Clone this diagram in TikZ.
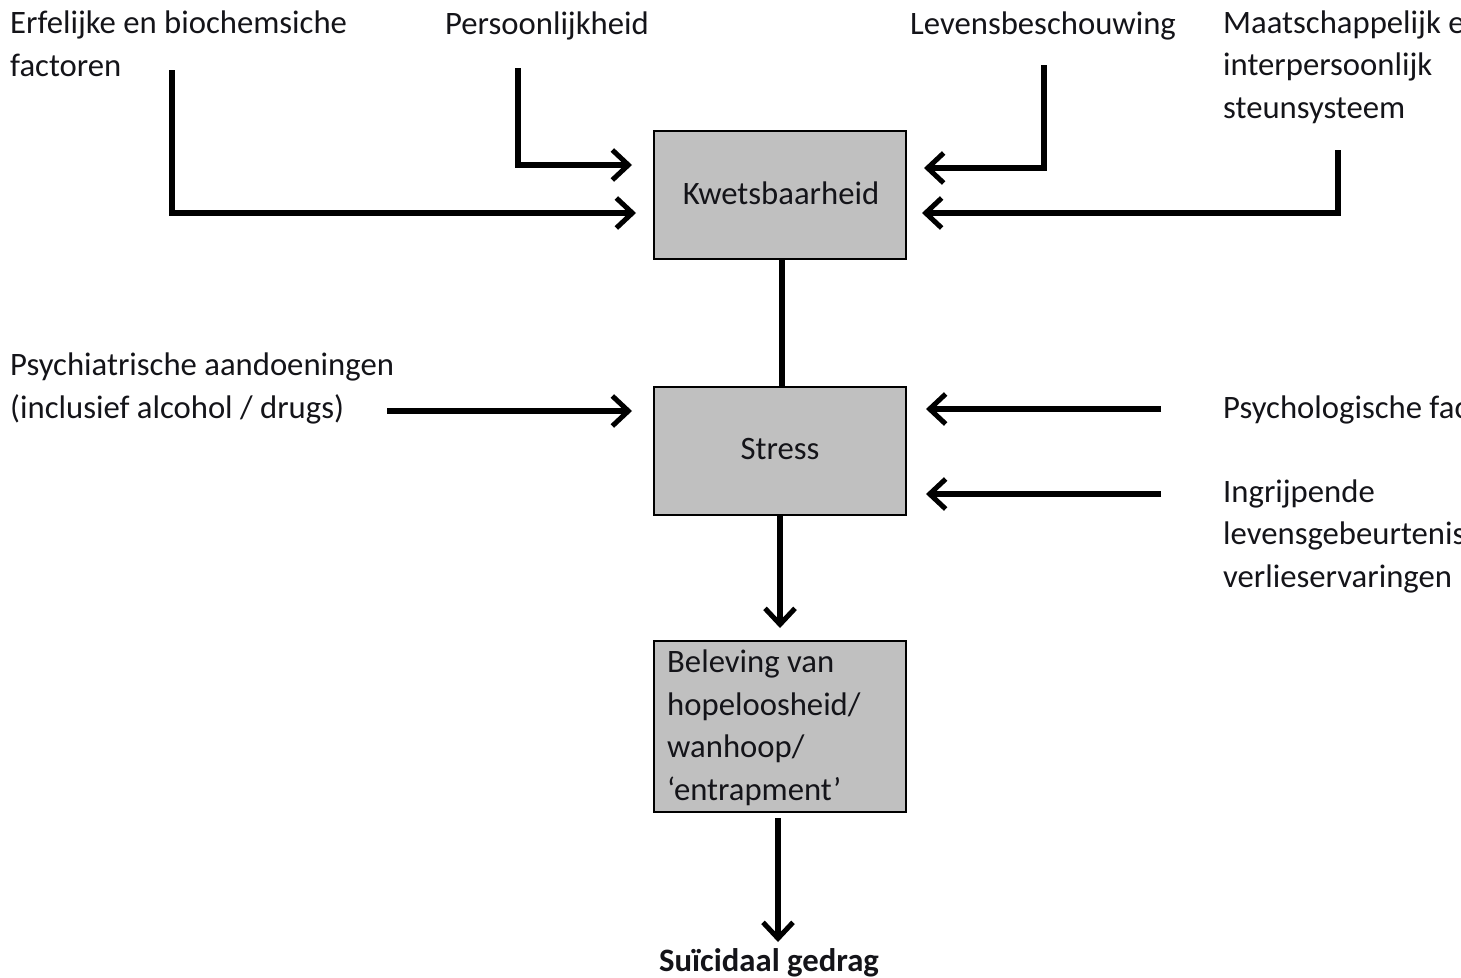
\documentclass[tikz,border=0pt]{standalone}
\usepackage{fontspec}
\setmainfont{Carlito}
\usetikzlibrary{arrows.meta}
\definecolor{boxgray}{RGB}{192,192,192}
\definecolor{ink}{RGB}{20,20,25}
\tikzset{
  lbl/.style={anchor=base west, align=left, inner sep=0pt, text=ink,
    font=\fontsize{32.7}{42.5}\selectfont},
  blk/.style={draw=black, line width=2.5pt, fill=boxgray, minimum width=252pt, inner sep=0pt},
  arr/.style={line width=5.2pt, -{Straight Barb[length=16pt,width=30pt,line width=5pt]}},
  conn/.style={line width=5.2pt}
}
\begin{document}
\begin{tikzpicture}[x=1pt,y=-1pt]
\useasboundingbox (0,0) rectangle (1461,977);
% boxes
\node[blk, minimum height=128pt] (kw) at (780,195) {};
\node[blk, minimum height=128pt] (st) at (780,451) {};
\node[blk, minimum height=171pt] (bl) at (780,726.5) {};
\node[lbl, anchor=base] at (781,204) {Kwetsbaarheid};
\node[lbl, anchor=base] at (780,459) {Stress};
\node[lbl] (bltxt) at (667,800) {Beleving van\\hopeloosheid/\\wanhoop/\\‘entrapment’};
\node[lbl, anchor=base, font=\fontsize{32.7}{42.5}\selectfont\bfseries] (sg) at (769,971) {Suïcidaal gedrag};
% labels
\node[lbl] (erf) at (10,76) {Erfelijke en biochemsiche\\factoren};
\node[lbl] (per) at (445,34) {Persoonlijkheid};
\node[lbl] (lev) at (910,34) {Levensbeschouwing};
\node[lbl] (maa) at (1223,118) {Maatschappelijk en\\interpersoonlijk\\steunsysteem};
\node[lbl] (psy) at (10,418) {Psychiatrische aandoeningen\\(inclusief alcohol / drugs)};
\node[lbl] (pso) at (1223,418) {Psychologische factoren};
\node[lbl] (ing) at (1223,587) {Ingrijpende\\levensgebeurtenissen en\\verlieservaringen};
% connector coordinates
\coordinate (a1) at (172,70);
\coordinate (a2) at (518,68);
\coordinate (a3) at (1044,65);
\coordinate (a4) at (1338,150);
\coordinate (a5) at (387,411);
\coordinate (a6) at (1161,409);
\coordinate (a7) at (1161,494);
% connectors
\draw[arr] (a1) |- (636,213);
\draw[arr] (a2) |- (632,165);
\draw[arr] (a3) |- (924,168);
\draw[arr] (a4) |- (922,213);
\draw[arr] (a5) -- (632,411);
\draw[arr] (a6) -- (926,409);
\draw[arr] (a7) -- (926,494);
\draw[conn] (kw.south -| 782,0) -- (st.north -| 782,0);
\draw[arr] (st.south -| 780,0) -- (780,628);
\draw[arr] (778,818) -- (778,942);
\end{tikzpicture}
\end{document}
